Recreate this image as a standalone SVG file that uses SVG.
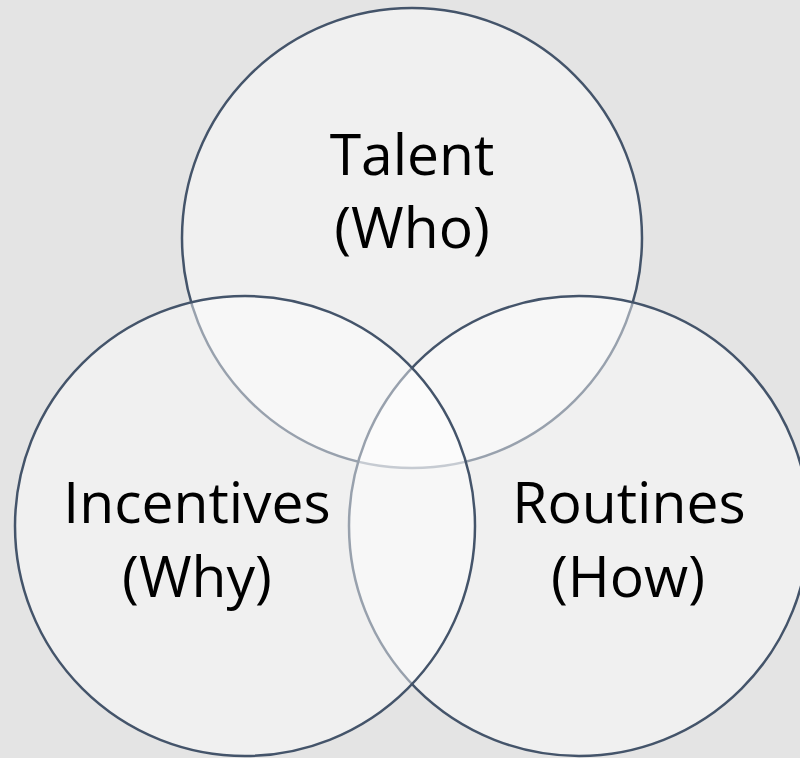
<svg xmlns="http://www.w3.org/2000/svg" width="800" height="758" viewBox="0 0 800 758">
<style>
.c{fill:#ffffff;fill-opacity:0.45;stroke:#44546a;stroke-width:2.5}
.t{font-family:"Open Sans","Liberation Sans",sans-serif;font-size:57px;fill:#000;text-anchor:middle}
</style>
<rect width="800" height="758" fill="#e4e4e4"/>
<g id="talent">
<circle class="c" cx="412" cy="238" r="230"/>
</g>
<g id="routines">
<circle class="c" cx="579" cy="526" r="230"/>
</g>
<g id="incentives">
<circle class="c" cx="245" cy="526" r="230"/>
</g>
<g id="labels">
<text class="t" x="412" y="175">Talent</text>
<text class="t" x="412" y="248">(Who)</text>
<text class="t" x="197" y="523">Incentives</text>
<text class="t" x="197" y="597">(Why)</text>
<text class="t" x="629" y="523">Routines</text>
<text class="t" x="628" y="597">(How)</text>
</g>
<g id="connectors"/>
</svg>
